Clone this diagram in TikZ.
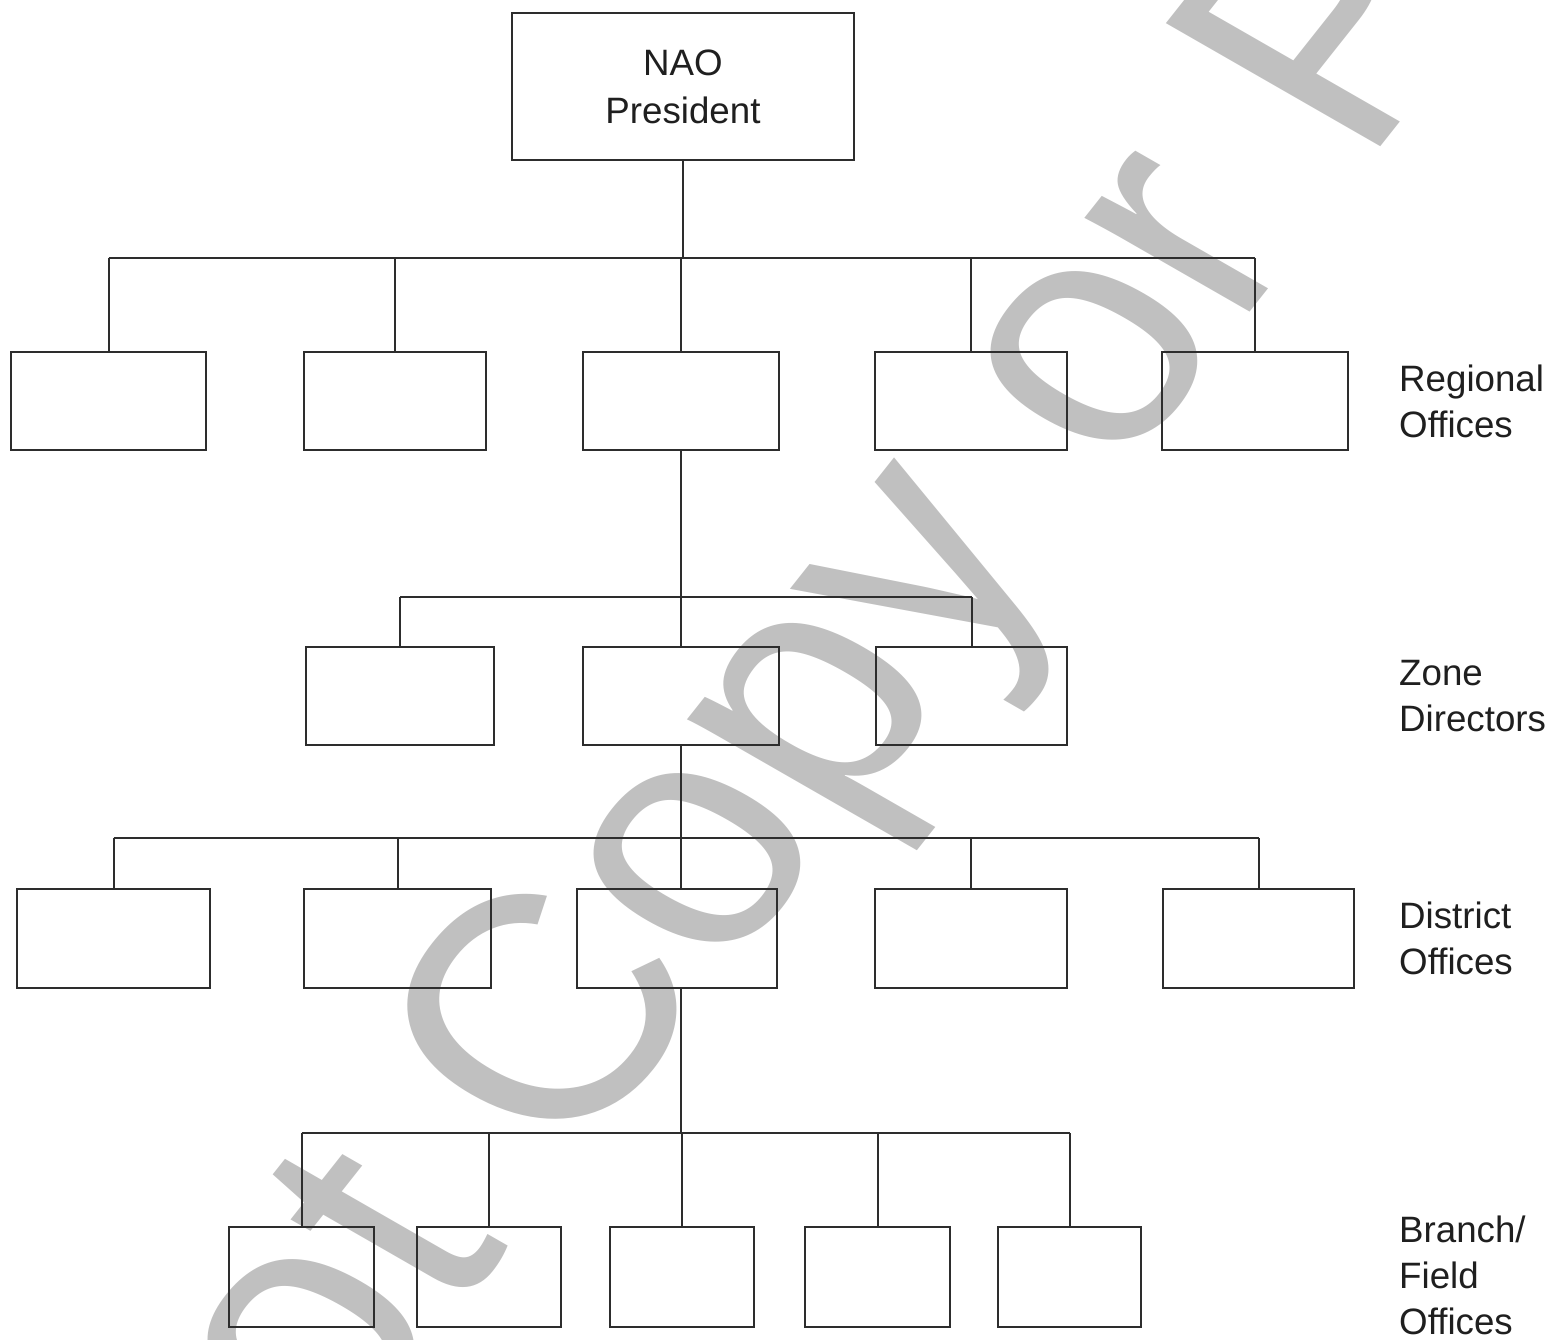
\documentclass[tikz,border=0pt]{standalone}
\usepackage{fontspec}
\setmainfont{Liberation Sans}
\definecolor{wm}{RGB}{192,192,192}
\definecolor{ln}{RGB}{45,45,45}
\newcommand\orgbox[5]{\node[box, minimum width=#4pt, minimum height=#5pt] (#1) at (#2,#3) {};}
\begin{document}
\begin{tikzpicture}[x=1pt,y=-1pt,
  box/.style={draw=ln, line width=2pt, inner sep=0pt},
  conn/.style={draw=ln, line width=2pt},
  lbl/.style={font=\fontsize{36.7}{46}\selectfont, align=left, anchor=base west, inner sep=0pt, text=black!88}]
\useasboundingbox (0,0) rectangle (1558,1339);
% watermark
\begin{scope}
  \clip (0,0) rectangle (1558,1339);
  \begin{scope}[xscale=1.175]
    \node[transform shape, rotate=56, anchor=base west, inner sep=0pt, text=wm,
      font=\fontsize{320}{320}\selectfont] (wmk) at (-122,2070) {Do Not Copy or Post};
  \end{scope}
\end{scope}
% top
\node[box, minimum width=342pt, minimum height=147pt, align=center,
  font=\fontsize{36.7}{48}\selectfont, text=black!88] (nao) at (683,86.5) {NAO\\President};
% regional
\orgbox{r1}{108.5}{401}{195}{98}
\orgbox{r2}{395}{401}{182}{98}
\orgbox{r3}{681}{401}{196}{98}
\orgbox{r4}{971}{401}{192}{98}
\orgbox{r5}{1255}{401}{186}{98}
% zone
\orgbox{z1}{400}{696}{188}{98}
\orgbox{z2}{681}{696}{196}{98}
\orgbox{z3}{971.5}{696}{191}{98}
% district
\orgbox{d1}{113.5}{938.5}{193}{99}
\orgbox{d2}{397.5}{938.5}{187}{99}
\orgbox{d3}{677}{938.5}{200}{99}
\orgbox{d4}{971}{938.5}{192}{99}
\orgbox{d5}{1258.5}{938.5}{191}{99}
% branch
\orgbox{b1}{301.5}{1277}{145}{100}
\orgbox{b2}{489}{1277}{144}{100}
\orgbox{b3}{682}{1277}{144}{100}
\orgbox{b4}{877.5}{1277}{145}{100}
\orgbox{b5}{1069.5}{1277}{143}{100}
% buses
\coordinate (bus1) at (682,258);
\coordinate (bus2) at (682,597);
\coordinate (bus3) at (682,838);
\coordinate (bus4) at (682,1133);
\draw[conn] (nao.south) -- (nao.south |- bus1);
\draw[conn] (r1.north |- bus1) -- (r5.north |- bus1);
\foreach \n in {r1,r2,r3,r4,r5} \draw[conn] (\n.north |- bus1) -- (\n.north);
\draw[conn] (r3.south) -- (r3.south |- bus2);
\draw[conn] (z1.north |- bus2) -- (z3.north |- bus2);
\foreach \n in {z1,z2,z3} \draw[conn] (\n.north |- bus2) -- (\n.north);
\draw[conn] (z2.south) -- (z2.south |- d3.north);
\draw[conn] (d1.north |- bus3) -- (d5.north |- bus3);
\foreach \n in {d1,d2,d4,d5} \draw[conn] (\n.north |- bus3) -- (\n.north);
\draw[conn] (d3.south -| z2.south) -- (z2.south |- bus4);
\draw[conn] (b1.north |- bus4) -- (b5.north |- bus4);
\foreach \n in {b1,b2,b3,b4,b5} \draw[conn] (\n.north |- bus4) -- (\n.north);
% level labels (anchor = baseline of last line)
\node[lbl] (lreg) at (1399,437) {Regional\\Offices};
\node[lbl] (lzone) at (1399,731) {Zone\\Directors};
\node[lbl] (ldist) at (1399,974) {District\\Offices};
\node[lbl] (lbranch) at (1399,1334) {Branch/\\Field\\Offices};
\end{tikzpicture}
\end{document}
